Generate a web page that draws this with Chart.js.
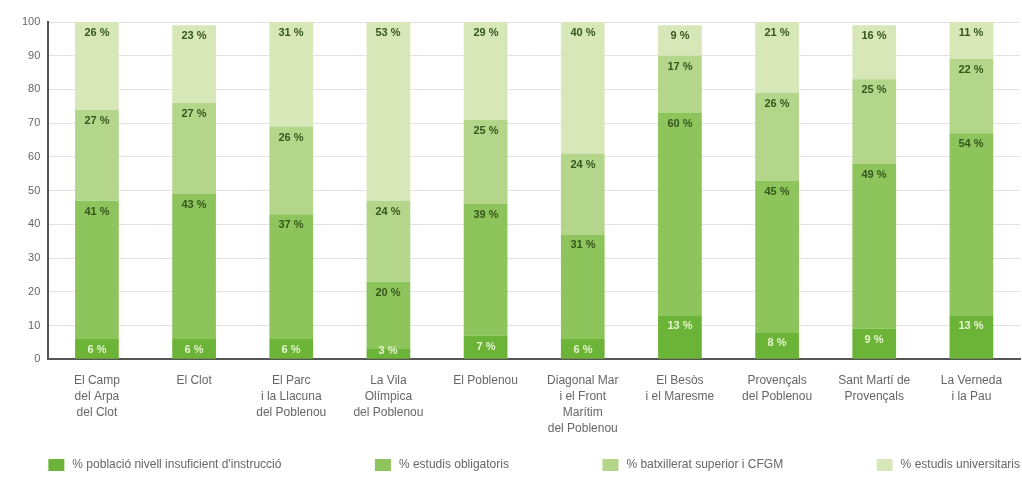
<!DOCTYPE html>
<html>
<head>
<meta charset="utf-8">
<script src="https://cdn.jsdelivr.net/npm/chart.js@4/dist/chart.umd.min.js"></script>
<style>
  html, body { margin: 0; padding: 0; background: #fff; }
  #wrap { width: 1022px; height: 480px; }
</style>
</head>
<body>
<div id="wrap"><canvas id="grafic"></canvas></div>
<script>
// barris (categories), cada etiqueta partida en línies
const barris = [
  ["El Camp", "del Arpa", "del Clot"],
  ["El Clot"],
  ["El Parc", "i la Llacuna", "del Poblenou"],
  ["La Vila", "Olímpica", "del Poblenou"],
  ["El Poblenou"],
  ["Diagonal Mar", "i el Front", "Marítim", "del Poblenou"],
  ["El Besòs", "i el Maresme"],
  ["Provençals", "del Poblenou"],
  ["Sant Martí de", "Provençals"],
  ["La Verneda", "i la Pau"]
];

// valors en % per a cada nivell d'instrucció
const insuficient   = [6, 6, 6, 3, 7, 6, 13, 8, 9, 13];
const obligatoris   = [41, 43, 37, 20, 39, 31, 60, 45, 49, 54];
const batxillerat   = [27, 27, 26, 24, 25, 24, 17, 26, 25, 22];
const universitaris = [26, 23, 31, 53, 29, 40, 9, 21, 16, 11];

const noms = [
  "% població nivell insuficient d'instrucció",
  "% estudis obligatoris",
  "% batxillerat superior i CFGM",
  "% estudis universitaris"
];

const ticksY = [0, 10, 20, 30, 40, 50, 60, 70, 80, 90, 100];

const colors = ["#6cb437", "#8dc55c", "#b3d68a", "#d7e7b8"];
const font = "'Liberation Sans', Arial, sans-serif";

// escriu el % a dalt de cada tram
const etiquetes = {
  id: "etiquetes",
  afterDatasetsDraw(chart) {
    const ctx = chart.ctx;
    ctx.save();
    ctx.font = "bold 11px " + font;
    ctx.textAlign = "center";
    ctx.textBaseline = "middle";
    chart.data.datasets.forEach((ds, i) => {
      const meta = chart.getDatasetMeta(i);
      meta.data.forEach((bar, j) => {
        let y = Math.max(bar.y, chart.chartArea.top) + 11;
        y = Math.min(y, bar.base - 8);
        ctx.fillStyle = i === 0 ? "#e6f4cf" : "#35561c";
        ctx.fillText(ds.data[j] + " %", Math.round(bar.x), y);
      });
    });
    ctx.restore();
  }
};

// llegenda repartida a tota l'amplada, sota el gràfic
const llegenda = {
  id: "llegenda",
  afterDraw(chart) {
    const ctx = chart.ctx;
    const area = chart.chartArea;
    const y = chart.height - 15;
    ctx.save();
    ctx.font = "12px " + font;
    ctx.textBaseline = "middle";
    const items = chart.data.datasets.map(ds => ({
      text: ds.label,
      color: ds.backgroundColor,
      w: 16 + 8 + ctx.measureText(ds.label).width
    }));
    const total = items.reduce((s, it) => s + it.w, 0);
    const gap = (area.right - area.left - total) / (items.length - 1);
    let x = area.left;
    items.forEach(it => {
      ctx.fillStyle = it.color;
      ctx.fillRect(x, y - 6, 16, 12);
      ctx.fillStyle = "#666";
      ctx.fillText(it.text, x + 24, y);
      x += it.w + gap;
    });
    ctx.restore();
  }
};

const series = [insuficient, obligatoris, batxillerat, universitaris];
const datasets = series.map((valors, i) => ({
  label: noms[i],
  data: valors,
  backgroundColor: colors[i],
  borderWidth: 0,
  categoryPercentage: 0.9,
  barPercentage: 0.5
}));

new Chart(document.getElementById("grafic"), {
  type: "bar",
  data: { labels: barris, datasets: datasets },
  options: {
    responsive: true,
    maintainAspectRatio: false,
    animation: false,
    layout: { padding: { left: 14, right: 2, top: 22, bottom: 38 } },
    plugins: {
      legend: { display: false },
      tooltip: { enabled: false }
    },
    scales: {
      x: {
        stacked: true,
        grid: { display: false },
        border: { color: "#555", width: 2 },
        ticks: {
          padding: 5,
          color: "#666",
          font: { size: 12, family: font, lineHeight: 1.35 },
          maxRotation: 0,
          autoSkip: false
        }
      },
      y: {
        stacked: true,
        min: 0,
        max: 100,
        afterBuildTicks(axis) { axis.ticks = ticksY.map(v => ({ value: v })); },
        grid: { color: "#e2e2e2", drawTicks: false },
        border: { color: "#555", width: 2 },
        ticks: {
          padding: 8,
          color: "#666",
          font: { size: 11, family: font }
        }
      }
    }
  },
  plugins: [etiquetes, llegenda]
});
</script>
</body>
</html>
